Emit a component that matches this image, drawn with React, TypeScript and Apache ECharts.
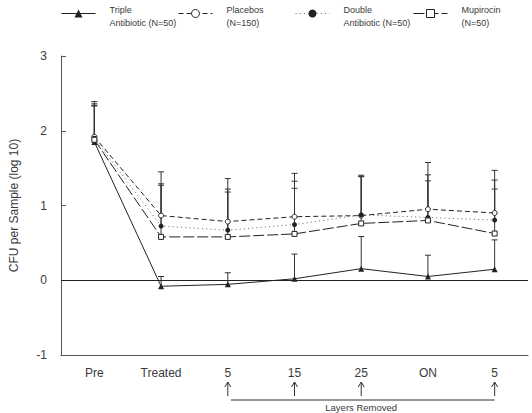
import React, { useEffect, useRef } from 'react';
import * as echarts from 'echarts';

const categories = ['Pre', 'Treated', '5', '15', '25', 'ON', '5'];

const tripleMean = [1.85, -0.08, -0.055, 0.02, 0.155, 0.05, 0.147];
const tripleUpper = [2.33, 0.05, 0.1, 0.35, 0.585, 0.335, 0.54];

const placeboMean = [1.92, 0.865, 0.785, 0.85, 0.865, 0.95, 0.9];
const placeboUpper = [2.39, 1.45, 1.36, 1.43, 1.405, 1.575, 1.47];

const doubleMean = [1.9, 0.725, 0.67, 0.745, 0.875, 0.84, 0.805];
const doubleUpper = [2.36, 1.29, 1.22, 1.325, 1.39, 1.41, 1.34];

const mupMean = [1.88, 0.58, 0.58, 0.62, 0.76, 0.8, 0.625];
const mupUpper = [2.34, 1.27, 1.18, 1.23, 1.385, 1.33, 1.22];

const seriesNames = [
  'Triple\nAntibiotic (N=50)',
  'Placebos\n(N=150)',
  'Double\nAntibiotic (N=50)',
  'Mupirocin\n(N=50)',
];

const layersRemovedIdx = [2, 3, 4, 6];
const annotationText = 'Layers Removed';

const FONT = '"Liberation Sans", Arial, Helvetica, sans-serif';
const INK = '#222';
const TEXT = '#3a3a3a';

function errSeries(means: number[], uppers: number[]) {
  return {
    type: 'custom',
    silent: true,
    z: 1,
    data: means.map((m, i) => [i, m, uppers[i]]),
    encode: { x: 0, y: 1 },
    renderItem: (_params: any, api: any) => {
      const x = api.value(0);
      const p0 = api.coord([x, api.value(1)]);
      const p1 = api.coord([x, api.value(2)]);
      const st = { stroke: '#333', lineWidth: 1 };
      return {
        type: 'group',
        children: [
          { type: 'line', shape: { x1: p0[0], y1: p0[1], x2: p1[0], y2: p1[1] }, style: st },
          { type: 'line', shape: { x1: p1[0] - 3, y1: p1[1], x2: p1[0] + 3, y2: p1[1] }, style: st },
        ],
      };
    },
  };
}

export default function App() {
  const ref = useRef<HTMLDivElement>(null);

  useEffect(() => {
    const chart = echarts.init(ref.current!, null, { renderer: 'svg' });

    const legendLefts = [61, 178, 295, 413];
    const legendCommon = {
      top: -1,
      padding: 0,
      itemWidth: 34,
      itemHeight: 10,
      lineStyle: { width: 1 },
      itemStyle: { borderWidth: 1 },
      formatter: (n: string) =>
        '{s| }\n' + n.split('\n').map((l) => '{a|' + l + '}').join('\n'),
      textStyle: {
        fontFamily: FONT,
        fontSize: 9,
        color: TEXT,
        padding: [0, 0, 0, 9],
        rich: {
          s: { fontSize: 4, lineHeight: 5.6, fontFamily: FONT },
          a: { fontSize: 9, lineHeight: 12.5, color: TEXT, fontFamily: FONT },
        },
      },
    };

    const option: any = {
      animation: false,
      backgroundColor: '#fff',
      textStyle: { fontFamily: FONT },
      legend: seriesNames.map((n, i) => ({ ...legendCommon, left: legendLefts[i], data: [n] })),
      grid: { left: 61, right: 4, top: 56, bottom: 58 },
      xAxis: {
        type: 'category',
        data: categories,
        boundaryGap: true,
        axisLine: { onZero: false, lineStyle: { color: '#555', width: 1 } },
        axisTick: { alignWithLabel: true, inside: true, length: 6, lineStyle: { color: '#555' } },
        axisLabel: { interval: 0, fontSize: 12, margin: 12, color: TEXT, fontFamily: FONT },
        splitLine: { show: false },
      },
      yAxis: {
        type: 'value',
        min: -1,
        max: 3,
        interval: 1,
        name: 'CFU per Sample (log 10)',
        nameLocation: 'middle',
        nameRotate: 90,
        nameGap: 41,
        nameTextStyle: { fontSize: 12, color: TEXT, fontFamily: FONT },
        axisLine: { show: true, lineStyle: { color: '#555', width: 1 } },
        axisTick: { show: true, inside: true, length: 5, lineStyle: { color: '#555' } },
        axisLabel: { fontSize: 12, margin: 14, color: TEXT, fontFamily: FONT },
        splitLine: { show: false },
      },
      series: [
        errSeries(tripleMean, tripleUpper),
        errSeries(placeboMean, placeboUpper),
        errSeries(doubleMean, doubleUpper),
        errSeries(mupMean, mupUpper),
        {
          type: 'line',
          name: seriesNames[0],
          data: tripleMean,
          z: 4,
          symbol: 'triangle',
          symbolSize: 6,
          itemStyle: { color: INK },
          lineStyle: { color: INK, width: 1, type: 'solid' },
          markLine: {
            silent: true,
            symbol: 'none',
            label: { show: false },
            lineStyle: { color: INK, width: 1, type: 'solid' },
            data: [{ yAxis: 0 }],
          },
        },
        {
          type: 'line',
          name: seriesNames[1],
          data: placeboMean,
          z: 4,
          symbol: 'circle',
          symbolSize: 5,
          itemStyle: { color: '#fff', borderColor: INK, borderWidth: 1 },
          lineStyle: { color: INK, width: 1, type: [5, 3] },
        },
        {
          type: 'line',
          name: seriesNames[2],
          data: doubleMean,
          z: 4,
          symbol: 'circle',
          symbolSize: 5,
          itemStyle: { color: INK },
          lineStyle: { color: '#777', width: 1, type: [1.2, 3] },
        },
        {
          type: 'line',
          name: seriesNames[3],
          data: mupMean,
          z: 4,
          symbol: 'rect',
          symbolSize: 5,
          itemStyle: { color: '#fff', borderColor: INK, borderWidth: 1 },
          lineStyle: { color: INK, width: 1, type: [11, 3] },
        },
      ],
    };

    chart.setOption(option);

    const xs = layersRemovedIdx.map((i) => chart.convertToPixel({ xAxisIndex: 0 }, i) as number);
    const yB = chart.convertToPixel({ yAxisIndex: 0 }, -1) as number;
    const st = { stroke: '#333', lineWidth: 1, fill: 'none' };
    const graphic: any[] = [];
    xs.forEach((x) => {
      graphic.push({ type: 'line', shape: { x1: x, y1: yB + 27, x2: x, y2: yB + 41 }, style: st, silent: true });
      graphic.push({
        type: 'polyline',
        shape: { points: [[x - 3, yB + 32], [x, yB + 27], [x + 3, yB + 32]] },
        style: st,
        silent: true,
      });
    });
    graphic.push({
      type: 'line',
      shape: { x1: xs[0] + 3, y1: yB + 45, x2: xs[xs.length - 1], y2: yB + 45 },
      style: st,
      silent: true,
    });
    graphic.push({
      type: 'text',
      x: (xs[0] + xs[xs.length - 1]) / 2,
      y: yB + 52,
      silent: true,
      style: {
        text: annotationText,
        fontSize: 9.5,
        fontFamily: FONT,
        fill: TEXT,
        textAlign: 'center',
        textVerticalAlign: 'middle',
      },
    });
    chart.setOption({ graphic });

    return () => chart.dispose();
  }, []);

  return <div ref={ref} style={{ position: 'fixed', left: 0, top: 0, width: 532, height: 413 }} />;
}
